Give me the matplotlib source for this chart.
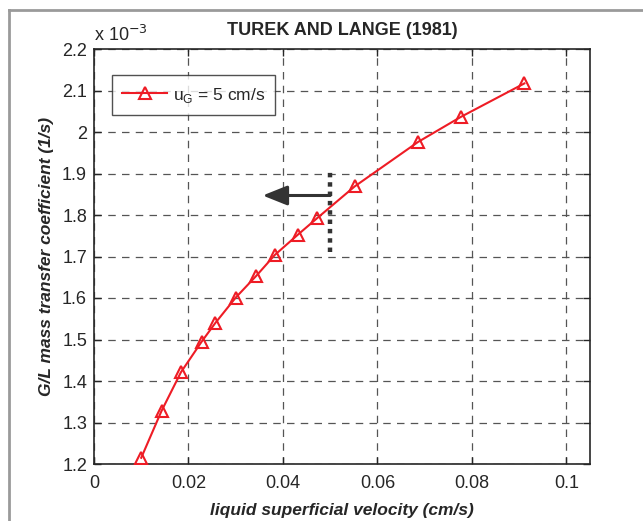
import matplotlib
matplotlib.use("Agg")
import matplotlib.pyplot as plt
from matplotlib.lines import Line2D

# Data
velocity = [0.0100, 0.0143, 0.0184, 0.0228, 0.0257, 0.0300, 0.0344,
            0.0383, 0.0432, 0.0473, 0.0552, 0.0686, 0.0776, 0.0911]
kla = [1.215, 1.328, 1.421, 1.495, 1.540, 1.601, 1.654,
       1.704, 1.753, 1.793, 1.869, 1.976, 2.036, 2.117]  # x 1e-3
series_label = "u$_\\mathregular{G}$ = 5 cm/s"
title = "TUREK AND LANGE (1981)"
xlabel = "liquid superficial velocity (cm/s)"
ylabel = "G/L mass transfer coefficient (1/s)"
xticks = [0, 0.02, 0.04, 0.06, 0.08, 0.1]
xticklabels = ["0", "0.02", "0.04", "0.06", "0.08", "0.1"]
yticks = [1.2, 1.3, 1.4, 1.5, 1.6, 1.7, 1.8, 1.9, 2.0, 2.1, 2.2]
yticklabels = ["1.2", "1.3", "1.4", "1.5", "1.6", "1.7", "1.8", "1.9", "2", "2.1", "2.2"]
limit_x = 0.05
limit_y = [1.71, 1.905]
arrow_y = 1.847
arrow_to_x = 0.0357

plt.rcParams['font.family'] = ['Liberation Sans', 'DejaVu Sans']
text_color = "#262626"
red = "#ee1c25"

fig = plt.figure(figsize=(6.43, 5.21), dpi=100)
ax = fig.add_axes([94/643, 1 - 464/521, (590-94)/643, (464-49)/521])

ax.plot(velocity, kla, color=red, lw=1.5, marker="^", ms=9,
        mfc="none", mec=red, mew=1.5, label=series_label, zorder=5)

ax.set_xlim(0, 0.105)
ax.set_ylim(1.2, 2.2)
ax.set_xticks(xticks)
ax.set_xticklabels(xticklabels)
ax.set_yticks(yticks)
ax.set_yticklabels(yticklabels)
ax.tick_params(direction="in", top=True, right=True, length=5, width=1,
               labelsize=13, colors=text_color)
ax.tick_params(axis="x", pad=8)
ax.tick_params(axis="y", pad=5)
for s in ax.spines.values():
    s.set_color("#262626")
    s.set_linewidth(1.2)
ax.grid(True, ls=(0, (6, 5)), color="#555555", lw=0.9)

# dotted vertical limit line and arrow
ax.plot([limit_x, limit_x], limit_y, color="#333333", lw=3.2,
        ls=(0, (1, 1.1)), zorder=4)
ax.annotate("", xy=(arrow_to_x, arrow_y), xytext=(limit_x, arrow_y),
            arrowprops=dict(arrowstyle="-|>,head_length=1.5,head_width=0.6",
                            color="#333333", lw=2.2, shrinkA=0, shrinkB=0),
            zorder=4)

ax.set_title(title, fontsize=13, fontweight="bold", color=text_color, pad=10)
ax.set_xlabel(xlabel, fontsize=12.5, fontweight="bold", style="italic",
              color=text_color, labelpad=8)
ax.set_ylabel(ylabel, fontsize=12.5, fontweight="bold", style="italic",
              color=text_color, labelpad=6)

fig.text(94/643, 1 - 35/521, "x 10$^{-3}$", fontsize=13, color=text_color,
         ha="left", va="center")

leg = ax.legend(loc="upper left", bbox_to_anchor=(0.036, 0.937), fontsize=12.5,
                frameon=True, fancybox=False, edgecolor="#262626",
                handlelength=2.6, borderpad=0.6, handletextpad=0.3,
                borderaxespad=0)
leg.get_frame().set_linewidth(1.0)
for t in leg.get_texts():
    t.set_color(text_color)

# gray frame border (left and top)
fig.add_artist(Line2D([9/643, 9/643], [0, 1 - 10/521], color="#9a9a9a", lw=2,
                      transform=fig.transFigure))
fig.add_artist(Line2D([9/643, 1], [1 - 10/521, 1 - 10/521], color="#9a9a9a", lw=2,
                      transform=fig.transFigure))

fig.savefig("out.png", dpi=100)
